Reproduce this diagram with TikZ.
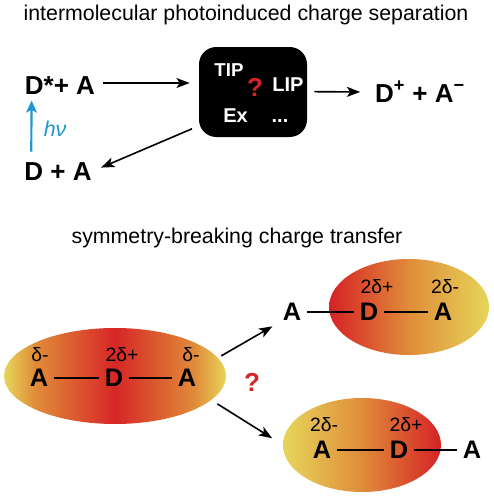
\documentclass[tikz,border=0pt]{standalone}
\usepackage{fontspec}
\setmainfont{Liberation Sans}
\usetikzlibrary{arrows.meta, positioning, shapes.geometric}

\definecolor{molyellow}{RGB}{230,214,90}
\definecolor{molorange}{RGB}{224,140,58}
\definecolor{molred}{RGB}{214,38,38}
\definecolor{hvblue}{RGB}{30,150,210}
\definecolor{askred}{RGB}{215,35,35}

\pgfdeclarehorizontalshading{molsym}{100bp}{color(0bp)=(molyellow); color(25bp)=(molyellow); color(32bp)=(molorange); color(50bp)=(molred); color(68bp)=(molorange); color(75bp)=(molyellow); color(100bp)=(molyellow)}
\pgfdeclarehorizontalshading{molredleft}{100bp}{color(0bp)=(molred); color(26bp)=(molred); color(50bp)=(molorange); color(75bp)=(molyellow); color(100bp)=(molyellow)}
\pgfdeclarehorizontalshading{molredright}{100bp}{color(0bp)=(molyellow); color(25bp)=(molyellow); color(50bp)=(molorange); color(74bp)=(molred); color(100bp)=(molred)}

\begin{document}
\begin{tikzpicture}[
		x=0.75pt, y=-0.75pt,
		title/.style= {
				font=\fontsize{16pt}{19pt}\selectfont,
				inner sep=0pt,
				anchor=base
			},
		big/.style= {
				font=\fontsize{19.5pt}{23pt}\selectfont\bfseries,
				inner sep=0pt
			},
		boxtext/.style= {
				font=\fontsize{15pt}{18pt}\selectfont\bfseries,
				text=white,
				inner sep=0pt
			},
		atom/.style= {
				font=\fontsize{19pt}{22pt}\selectfont\bfseries,
				inner sep=0pt
			},
		charge/.style= {
				font=\fontsize{14.5pt}{17pt}\selectfont,
				inner sep=0pt
			},
		ask/.style= {
				font=\fontsize{19.5pt}{23pt}\selectfont\bfseries,
				text=askred,
				inner sep=0pt
			},
		mol/.style= {
				ellipse,
				inner sep=0pt,
				outer sep=0pt
			},
		myarrow/.style= {
				-{Stealth[length=10pt, width=7.5pt, inset=2.5pt]},
				line width=1.2pt
			},
		hvarrow/.style= {
				-{Stealth[length=9pt, width=8pt, inset=2pt]},
				line width=1.6pt,
				draw=hvblue
			},
		bond/.style= {
				line width=1.5pt,
				shorten <=4.5pt,
				shorten >=4.5pt
			}
	]

	\useasboundingbox (0,0) rectangle (493,500);

	\node[title] (t1) at (246,20) {intermolecular photoinduced charge separation};
	\node[big] (dsa) at (60,86) {D*+ A};
	\node[big] (da) at (58,171.5) {D + A};
	\node[big, anchor=base] (prod) at (420,102) {D\textsuperscript{+} + A\textsuperscript{−}};
	\node[fill=black, rounded corners=13pt, minimum width=81pt, minimum height=67.5pt, inner sep=0pt] (box) at (253,92) {};
	\node[boxtext, font=\fontsize{14pt}{17pt}\selectfont\bfseries] (tip) at (229,70) {TIP};
	\node[boxtext] (lip) at (288,84.5) {LIP};
	\node[boxtext] (ex) at (235.5,115.5) {Ex};
	\node[boxtext, anchor=base] (dots) at (280,122) {...};
	\node[ask] (ask1) at (255,87.5) {?};
	\draw[myarrow, shorten <=6pt, shorten >=6.75pt] (dsa.east |- 0,83) -- (box.west |- 0,83);
	\draw[myarrow, shorten <=5.25pt, shorten >=11pt] (box.east |- prod) -- (prod.west |- box.east);
	\draw[myarrow, shorten <=5.5pt, shorten >=7.5pt] (box.212) -- (da.east);
	\draw[hvarrow, shorten <=8pt, shorten >=4pt] ([xshift=5.25pt]da.north west) -- ([xshift=5.25pt]dsa.south west)
		node[midway, right=8.5pt, font=\fontsize{16pt}{19pt}\selectfont\itshape, text=hvblue, inner sep=0pt] (hv) {hν};

	\node[title] (t2) at (237,243) {symmetry-breaking charge transfer};
	\node[mol, shading=molsym, minimum width=166.5pt, minimum height=72pt] (mol1) at (115,376) {};
	\node[mol, shading=molredleft, minimum width=120pt, minimum height=72pt] (mol2) at (409,307) {};
	\node[mol, shading=molredright, minimum width=118.5pt, minimum height=70.5pt] (mol3) at (362,445) {};

	\node[atom] (a1) at (39,378) {A};
	\node[atom] (d1) at (114,378) {D};
	\node[atom] (a2) at (187,378) {A};
	\node[charge] (c1) at (40,355) {δ-};
	\node[charge] (c2) at (122,355) {2δ+};
	\node[charge] (c3) at (191,355) {δ-};
	\draw[bond] (a1) -- (d1);
	\draw[bond] (d1) -- (a2);

	\node[atom] (a3) at (292,311.5) {A};
	\node[atom] (d2) at (369,311.5) {D};
	\node[atom] (a4) at (443,311.5) {A};
	\node[charge] (c4) at (377,287) {2δ+};
	\node[charge] (c5) at (445,287) {2δ-};
	\draw[bond] (a3) -- (d2);
	\draw[bond] (d2) -- (a4);

	\node[atom] (a5) at (322,450) {A};
	\node[atom] (d3) at (399,450) {D};
	\node[atom] (a6) at (472,450) {A};
	\node[charge] (c6) at (324,425) {2δ-};
	\node[charge] (c7) at (406,425) {2δ+};
	\draw[bond] (a5) -- (d3);
	\draw[bond] (d3) -- (a6);

	\node[ask] (ask2) at (252,382.5) {?};
	\draw[myarrow, shorten <=3pt, shorten >=8.8pt] (mol1.10) -- (a3.south west);
	\draw[myarrow, shorten <=5.5pt, shorten >=9.6pt] (mol1.346) -- (mol3.west);
\end{tikzpicture}
\end{document}
